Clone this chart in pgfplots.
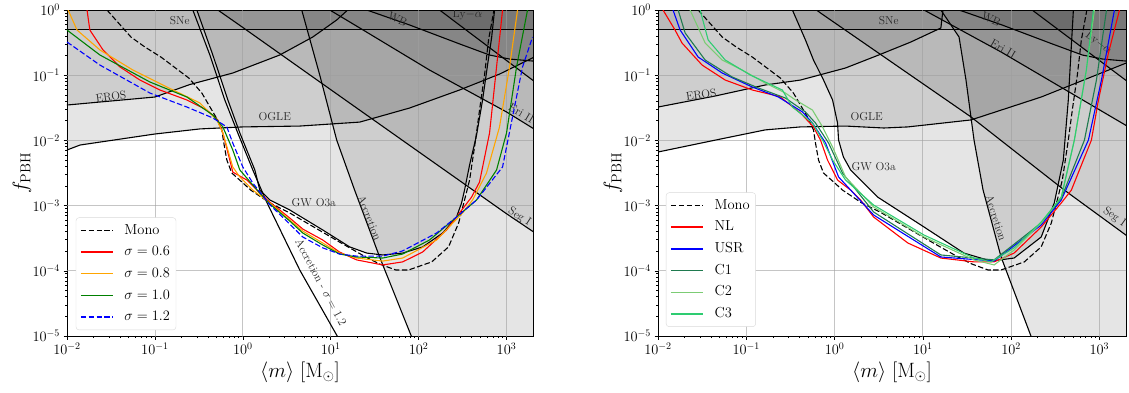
\documentclass[border=0pt]{standalone}
\usepackage{pgfplots}
\pgfplotsset{compat=1.18}

\definecolor{cOrange}{HTML}{FFA500}
\definecolor{cGreen}{HTML}{008000}
\definecolor{cOne}{HTML}{1F7A4F}
\definecolor{cTwo}{HTML}{7CCC74}
\definecolor{cThree}{HTML}{2ECC71}
\definecolor{legframe}{HTML}{D9D9D9}

\tikzset{
  cfill/.style={fill=black, fill opacity=0.1, draw=none},
  cline/.style={black, line width=1.1pt},
  gline/.style={color=gray!75, opacity=0.6, line width=0.8pt},
  bcurve/.style={line width=1.1pt},
  bdashed/.style={line width=1.1pt, dash pattern=on 5.5pt off 2.4pt},
  clabel/.style={font=\fontsize{11.5}{13}\selectfont, text=black!85, inner sep=0pt},
}

\begin{document}
\begin{tikzpicture}
\path[use as bounding box] (-67pt,-56pt) rectangle (1062pt,336pt);

% ---------------- left panel: lognormal widths ----------------
\begin{axis}[
  at={(0pt,0pt)}, anchor=south west,
  xmode=log, ymode=log,
  xmin=0.01, xmax=2000, ymin=1e-5, ymax=1,
  scale only axis, width=466pt, height=326pt,
  axis line style={black, line width=0.8pt},
  tick align=outside, xtick pos=left, ytick pos=left,
  major tick length=3.5pt, minor tick length=2pt,
  every tick/.style={black, line width=0.6pt},
  xtick={0.01,0.1,1,10,100,1000},
  ytick={1e-5,1e-4,1e-3,1e-2,1e-1,1},
  tick label style={font=\fontsize{14}{16}\selectfont},
  xlabel={$\langle m\rangle\ [\mathrm{M}_\odot]$},
  ylabel={$f_{\mathrm{PBH}}$},
  every axis x label/.style={at={(axis description cs:0.5,0)}, anchor=center,
    yshift=-36pt, font=\fontsize{20}{24}\selectfont},
  every axis y label/.style={at={(axis description cs:0,0.5)}, anchor=center,
    xshift=-45pt, rotate=90, font=\fontsize{20}{24}\selectfont},
  legend cell align=left,
  legend image code/.code={\draw[#1, line width=1.4pt] (0pt,0pt) -- (32pt,0pt);},
  legend style={at={(0.019,0.018)}, anchor=south west, draw=legframe, rounded corners=3pt,
    fill=white, inner sep=4pt,
    font=\fontsize{14.5}{16}\selectfont, row sep=4.2pt, column sep=9pt,
    nodes={text height=10.5pt, text depth=3pt, inner sep=2pt}},
]

% SNe
\addplot[cfill, forget plot] coordinates {(0.005,0.5) (4000,0.5) (4000,3) (0.005,3)};
% EROS
\addplot[cfill, forget plot] coordinates {(0.005,0.033) (0.01,0.0349) (0.1,0.0463) (0.25,0.0720) (0.769,0.108) (2.63,0.204) (6.24,0.385) (11.7,0.703) (15.6,1) (16.5,3) (0.005,3)};
% OGLE
\addplot[cfill, forget plot] coordinates {(0.005,0.0065) (0.01,0.00713) (0.0141,0.0085) (0.1,0.01254) (0.325,0.0150) (1,0.0161) (4.44,0.0166) (21.4,0.0191) (79,0.0314) (292,0.0593) (832,0.104) (1974,0.184) (4000,0.29) (4000,3) (0.005,3)};
% GW O3a
\addplot[cfill, forget plot] coordinates {(0.28,1.5) (0.300,1) (0.456,0.204) (0.676,0.0417) (0.925,0.0130) (1.37,0.00352) (1.56,0.00173) (2.03,0.00122) (3.42,0.000857) (8.11,0.000423) (16.4,0.000233) (25.7,0.000187) (39.0,0.000175) (65.8,0.000187) (111,0.000232) (188,0.000380) (270,0.000668) (308,0.00110) (333,0.00173) (380,0.00420) (456,0.0121) (534,0.0417) (608,0.143) (676,0.372) (731,1) (760,1.5) (760,3) (0.28,3)};
% Accretion
\addplot[cfill, forget plot] coordinates {(4.0,2) (4.68,1) (7.5,0.1007) (11.7,0.0101) (18.7,0.00173) (36.0,0.000163) (83.2,9.7e-6) (164,1e-6) (4000,1e-6) (4000,3) (4.0,3)};
% Seg I
\addplot[cfill, forget plot] coordinates {(0.4,1.35) (0.52,1) (1,0.54) (10,0.06) (100,0.0067) (1000,0.00075) (2000,0.0004) (4000,0.00021) (4000,3) (0.4,3)};
% Eri II
\addplot[cfill, forget plot] coordinates {(8,1.17) (9.75,1) (21.4,0.53) (133,0.120) (1000,0.0273) (1974,0.0155) (4000,0.009) (4000,3) (8,3)};
% WB
\addplot[cfill, forget plot] coordinates {(22,1.15) (25.7,1) (79,0.589) (292,0.302) (641,0.204) (1082,0.177) (1974,0.165) (4000,0.162) (4000,3) (22,3)};
% Ly-alpha
\addplot[cfill, forget plot] coordinates {(150,1.16) (173,1) (1974,0.0843) (4000,0.040) (4000,3) (150,3)};

% grid over the shaded regions
\addplot[gline, forget plot] coordinates {(0.1,1e-6) (0.1,3)};
\addplot[gline, forget plot] coordinates {(1,1e-6) (1,3)};
\addplot[gline, forget plot] coordinates {(10,1e-6) (10,3)};
\addplot[gline, forget plot] coordinates {(100,1e-6) (100,3)};
\addplot[gline, forget plot] coordinates {(1000,1e-6) (1000,3)};
\addplot[gline, forget plot] coordinates {(0.005,1e-4) (4000,1e-4)};
\addplot[gline, forget plot] coordinates {(0.005,1e-3) (4000,1e-3)};
\addplot[gline, forget plot] coordinates {(0.005,1e-2) (4000,1e-2)};
\addplot[gline, forget plot] coordinates {(0.005,1e-1) (4000,1e-1)};

% constraint boundaries
\addplot[cline, forget plot] coordinates {(0.005,0.5) (4000,0.5)};
\addplot[cline, forget plot] coordinates {(0.005,0.033) (0.01,0.0349) (0.1,0.0463) (0.25,0.0720) (0.769,0.108) (2.63,0.204) (6.24,0.385) (11.7,0.703) (15.6,1) (16.5,1.5)};
\addplot[cline, forget plot] coordinates {(0.005,0.0065) (0.01,0.00713) (0.0141,0.0085) (0.1,0.01254) (0.325,0.0150) (1,0.0161) (4.44,0.0166) (21.4,0.0191) (79,0.0314) (292,0.0593) (832,0.104) (1974,0.184) (4000,0.29)};
\addplot[cline, forget plot] coordinates {(0.28,1.5) (0.300,1) (0.456,0.204) (0.676,0.0417) (0.925,0.0130) (1.37,0.00352) (1.56,0.00173) (2.03,0.00122) (3.42,0.000857) (8.11,0.000423) (16.4,0.000233) (25.7,0.000187) (39.0,0.000175) (65.8,0.000187) (111,0.000232) (188,0.000380) (270,0.000668) (308,0.00110) (333,0.00173) (380,0.00420) (456,0.0121) (534,0.0417) (608,0.143) (676,0.372) (731,1) (760,1.5)};
\addplot[cline, forget plot] coordinates {(4.0,2) (4.68,1) (7.5,0.1007) (11.7,0.0101) (18.7,0.00173) (36.0,0.000163) (83.2,9.7e-6) (164,1e-6)};
% accretion bound for sigma = 1.2 (line only)
\addplot[cline, forget plot] coordinates {(0.22,1.6) (0.270,1) (0.422,0.204) (0.624,0.0417) (0.877,0.0130) (1.30,0.00352) (1.82,0.00122) (4.44,0.000103) (12.0,9.7e-6) (29,1e-6)};
\addplot[cline, forget plot] coordinates {(0.4,1.35) (0.52,1) (1,0.54) (10,0.06) (100,0.0067) (1000,0.00075) (2000,0.0004) (4000,0.00021)};
\addplot[cline, forget plot] coordinates {(8,1.17) (9.75,1) (21.4,0.53) (133,0.120) (1000,0.0273) (1974,0.0155) (4000,0.009)};
\addplot[cline, forget plot] coordinates {(22,1.15) (25.7,1) (79,0.589) (292,0.302) (641,0.204) (1082,0.177) (1974,0.165) (4000,0.162)};
\addplot[cline, forget plot] coordinates {(150,1.16) (173,1) (1974,0.0843) (4000,0.040)};

% constraint names
\node[clabel] at (axis cs:0.192,0.70) {SNe};
\node[clabel, rotate=8] at (axis cs:0.0316,0.047) {EROS};
\node[clabel] at (axis cs:2.31,0.0229) {OGLE};
\node[clabel, rotate=-25] at (axis cs:57.7,0.73) {WB};
\node[clabel] at (axis cs:360,0.84) {Ly$-\alpha$};
\node[clabel, rotate=-31] at (axis cs:1479,0.0263) {Eri II};
\node[clabel, rotate=-33] at (axis cs:1406,0.000668) {Seg I};
\node[clabel] at (axis cs:6.41,0.00110) {GW O3a};
\node[clabel, rotate=-68] at (axis cs:27.7,0.000645) {Accretion};
\node[clabel, rotate=-62, xshift=5pt] at (axis cs:7.31,7.76e-5) {Accretion - $\sigma=1.2$};

% bounds for each width
\addplot[bdashed, black, forget plot] coordinates {(0.0285,1) (0.0534,0.385) (0.0769,0.271) (0.117,0.190) (0.243,0.0906) (0.342,0.0533) (0.493,0.0229) (0.577,0.0145) (0.608,0.00912) (0.658,0.0050) (0.750,0.00316) (0.976,0.00230) (1.23,0.00173) (2.03,0.00110) (3.42,0.000771) (12.6,0.000276) (25.0,0.000163) (36.0,0.000127) (54.8,0.000103) (76.9,0.000103) (141,0.000137) (219,0.000233) (285,0.000541) (333,0.00122) (380,0.00247) (444,0.0101) (493,0.0292) (562,0.1007) (624,0.347) (720,1)};
\addplot[bcurve, red, forget plot] coordinates {(0.0169,1) (0.0182,0.493) (0.0257,0.244) (0.0400,0.134) (0.0676,0.0843) (0.114,0.0593) (0.231,0.0417) (0.390,0.0292) (0.520,0.0206) (0.593,0.0130) (0.711,0.0050) (0.769,0.00327) (1.11,0.00247) (1.56,0.00156) (2.03,0.00113) (3.42,0.000645) (4.81,0.000437) (8.11,0.000297) (12.6,0.000194) (19.7,0.000147) (39.0,0.000123) (65.8,0.000137) (111,0.000194) (208,0.000423) (292,0.000771) (400,0.00135) (493,0.00230) (641,0.0130) (770,0.134) (901,1)};
\addplot[bcurve, cOrange, forget plot] coordinates {(0.0103,1) (0.0130,0.493) (0.0237,0.244) (0.0562,0.120) (0.137,0.0659) (0.325,0.0375) (0.507,0.0206) (0.593,0.0130) (0.676,0.00713) (0.769,0.00391) (0.925,0.00275) (1.30,0.00173) (2.03,0.00110) (3.42,0.000601) (4.81,0.000407) (8.11,0.000267) (12.6,0.000187) (19.7,0.000157) (39.0,0.000141) (65.8,0.000157) (160,0.000297) (316,0.000771) (411,0.00122) (592,0.00316) (832,0.0161) (1082,0.134) (1334,1)};
\addplot[bcurve, cGreen, forget plot] coordinates {(0.01,0.493) (0.0237,0.204) (0.0877,0.0787) (0.231,0.0463) (0.456,0.0245) (0.593,0.0161) (0.769,0.00713) (0.925,0.00352) (1.56,0.00156) (2.03,0.00106) (3.42,0.000580) (4.81,0.000380) (8.11,0.000249) (12.6,0.000181) (19.7,0.000163) (39.0,0.000157) (65.8,0.000181) (133,0.000297) (270,0.000668) (456,0.00122) (770,0.00352) (1000,0.0130) (1300,0.134) (1733,1)};
\addplot[bdashed, blue, forget plot] coordinates {(0.01,0.323) (0.0237,0.143) (0.0877,0.0533) (0.231,0.0325) (0.456,0.0221) (0.658,0.0161) (0.769,0.00912) (1.0,0.00391) (1.30,0.00222) (2.03,0.00103) (3.42,0.000521) (4.81,0.000330) (8.11,0.000225) (12.6,0.000181) (19.7,0.000168) (39.0,0.000168) (65.8,0.000202) (160,0.000380) (270,0.000668) (456,0.00122) (901,0.00391) (1170,0.0229) (1521,0.134) (1974,0.385)};

\addlegendimage{bdashed, black}
\addlegendentry{Mono}
\addlegendimage{bcurve, red}
\addlegendentry{$\sigma=0.6$}
\addlegendimage{bcurve, cOrange}
\addlegendentry{$\sigma=0.8$}
\addlegendimage{bcurve, cGreen}
\addlegendentry{$\sigma=1.0$}
\addlegendimage{bdashed, blue}
\addlegendentry{$\sigma=1.2$}
\end{axis}

% ---------------- right panel: inflationary models ----------------
\begin{axis}[
  at={(591pt,0pt)}, anchor=south west,
  xmode=log, ymode=log,
  xmin=0.01, xmax=2000, ymin=1e-5, ymax=1,
  scale only axis, width=468pt, height=326pt,
  axis line style={black, line width=0.8pt},
  tick align=outside, xtick pos=left, ytick pos=left,
  major tick length=3.5pt, minor tick length=2pt,
  every tick/.style={black, line width=0.6pt},
  xtick={0.01,0.1,1,10,100,1000},
  ytick={1e-5,1e-4,1e-3,1e-2,1e-1,1},
  tick label style={font=\fontsize{14}{16}\selectfont},
  xlabel={$\langle m\rangle\ [\mathrm{M}_\odot]$},
  ylabel={$f_{\mathrm{PBH}}$},
  every axis x label/.style={at={(axis description cs:0.5,0)}, anchor=center,
    yshift=-36pt, font=\fontsize{20}{24}\selectfont},
  every axis y label/.style={at={(axis description cs:0,0.5)}, anchor=center,
    xshift=-45pt, rotate=90, font=\fontsize{20}{24}\selectfont},
  legend cell align=left,
  legend image code/.code={\draw[#1, line width=1.4pt] (0pt,0pt) -- (32pt,0pt);},
  legend style={at={(0.017,0.028)}, anchor=south west, draw=legframe, rounded corners=3pt,
    fill=white, inner sep=4pt,
    font=\fontsize{14.5}{16}\selectfont, row sep=4.2pt, column sep=9pt,
    nodes={text height=10.5pt, text depth=3pt, inner sep=2pt}},
]

% SNe
\addplot[cfill, forget plot] coordinates {(0.005,0.5) (4000,0.5) (4000,3) (0.005,3)};
% EROS
\addplot[cfill, forget plot] coordinates {(0.005,0.031) (0.01,0.0325) (0.0445,0.048) (0.164,0.0708) (0.411,0.0843) (1.33,0.129) (3.16,0.204) (7.31,0.323) (16.0,0.53) (16.9,1) (17.0,3) (0.005,3)};
% OGLE
\addplot[cfill, forget plot] coordinates {(0.005,0.006) (0.01,0.00664) (0.0445,0.0101) (0.164,0.0145) (0.411,0.0161) (1.33,0.0166) (3.61,0.0155) (6.76,0.0161) (35.1,0.0206) (219,0.0463) (2138,0.159) (4000,0.24) (4000,3) (0.005,3)};
% GW O3a
\addplot[cfill, forget plot] coordinates {(0.31,1.5) (0.333,1) (0.468,0.347) (0.577,0.171) (0.750,0.0843) (0.949,0.0417) (1.08,0.0185) (1.11,0.0101) (1.26,0.00556) (1.52,0.00352) (2.14,0.00222) (3.08,0.00135) (10.3,0.000470) (29.2,0.000187) (59.3,0.000141) (108,0.000157) (219,0.000330) (308,0.00110) (390,0.0050) (444,0.0417) (507,1) (520,1.5) (520,3) (0.31,3)};
% Accretion
\addplot[cfill, forget plot] coordinates {(12.3,2) (16.0,1) (25.7,0.385) (30.8,0.0843) (38.0,0.0101) (48.1,0.00173) (76.9,0.000163) (169,9.7e-6) (316,1e-6) (4000,1e-6) (4000,3) (12.3,3)};
% Seg I
\addplot[cfill, forget plot] coordinates {(0.5,1.23) (0.624,1) (0.693,0.90) (35.1,0.0229) (400,0.00173) (2138,0.000330) (4000,0.00017) (4000,3) (0.5,3)};
% Eri II
\addplot[cfill, forget plot] coordinates {(8.5,1.15) (10.3,1) (76.9,0.227) (2138,0.0161) (4000,0.0097) (4000,3) (8.5,3)};
% WB
\addplot[cfill, forget plot] coordinates {(22,1.15) (25.7,1) (79,0.589) (292,0.302) (641,0.204) (1082,0.177) (1974,0.165) (4000,0.162) (4000,3) (22,3)};
% Ly-alpha
\addplot[cfill, forget plot] coordinates {(150,1.16) (173,1) (1974,0.0843) (4000,0.040) (4000,3) (150,3)};

% grid over the shaded regions
\addplot[gline, forget plot] coordinates {(0.1,1e-6) (0.1,3)};
\addplot[gline, forget plot] coordinates {(1,1e-6) (1,3)};
\addplot[gline, forget plot] coordinates {(10,1e-6) (10,3)};
\addplot[gline, forget plot] coordinates {(100,1e-6) (100,3)};
\addplot[gline, forget plot] coordinates {(1000,1e-6) (1000,3)};
\addplot[gline, forget plot] coordinates {(0.005,1e-4) (4000,1e-4)};
\addplot[gline, forget plot] coordinates {(0.005,1e-3) (4000,1e-3)};
\addplot[gline, forget plot] coordinates {(0.005,1e-2) (4000,1e-2)};
\addplot[gline, forget plot] coordinates {(0.005,1e-1) (4000,1e-1)};

% constraint boundaries
\addplot[cline, forget plot] coordinates {(0.005,0.5) (4000,0.5)};
\addplot[cline, forget plot] coordinates {(0.005,0.031) (0.01,0.0325) (0.0445,0.048) (0.164,0.0708) (0.411,0.0843) (1.33,0.129) (3.16,0.204) (7.31,0.323) (16.0,0.53) (16.9,1) (17.0,1.5)};
\addplot[cline, forget plot] coordinates {(0.005,0.006) (0.01,0.00664) (0.0445,0.0101) (0.164,0.0145) (0.411,0.0161) (1.33,0.0166) (3.61,0.0155) (6.76,0.0161) (35.1,0.0206) (219,0.0463) (2138,0.159) (4000,0.24)};
\addplot[cline, forget plot] coordinates {(0.31,1.5) (0.333,1) (0.468,0.347) (0.577,0.171) (0.750,0.0843) (0.949,0.0417) (1.08,0.0185) (1.11,0.0101) (1.26,0.00556) (1.52,0.00352) (2.14,0.00222) (3.08,0.00135) (10.3,0.000470) (29.2,0.000187) (59.3,0.000141) (108,0.000157) (219,0.000330) (308,0.00110) (390,0.0050) (444,0.0417) (507,1) (520,1.5)};
\addplot[cline, forget plot] coordinates {(12.3,2) (16.0,1) (25.7,0.385) (30.8,0.0843) (38.0,0.0101) (48.1,0.00173) (76.9,0.000163) (169,9.7e-6) (316,1e-6)};
\addplot[cline, forget plot] coordinates {(0.5,1.23) (0.624,1) (0.693,0.90) (35.1,0.0229) (400,0.00173) (2138,0.000330) (4000,0.00017)};
\addplot[cline, forget plot] coordinates {(8.5,1.15) (10.3,1) (76.9,0.227) (2138,0.0161) (4000,0.0097)};
\addplot[cline, forget plot] coordinates {(22,1.15) (25.7,1) (79,0.589) (292,0.302) (641,0.204) (1082,0.177) (1974,0.165) (4000,0.162)};
\addplot[cline, forget plot] coordinates {(150,1.16) (173,1) (1974,0.0843) (4000,0.040)};

% constraint names
\node[clabel] at (axis cs:4.11,0.70) {SNe};
\node[clabel, rotate=8] at (axis cs:0.0308,0.050) {EROS};
\node[clabel] at (axis cs:2.31,0.0229) {OGLE};
\node[clabel, rotate=-25] at (axis cs:59.3,0.73) {WB};
\node[clabel, rotate=-30] at (axis cs:81.1,0.253) {Eri II};
\node[clabel, rotate=-37] at (axis cs:975,0.312) {Ly$-\alpha$};
\node[clabel, rotate=-35] at (axis cs:1479,0.000668) {Seg I};
\node[clabel] at (axis cs:2.77,0.00391) {GW O3a};
\node[clabel, rotate=-72] at (axis cs:67.6,0.000645) {Accretion};

% bounds for each model
\addplot[bdashed, black, forget plot] coordinates {(0.0285,1) (0.0534,0.385) (0.0769,0.271) (0.117,0.190) (0.243,0.0906) (0.342,0.0533) (0.493,0.0229) (0.577,0.0145) (0.608,0.00912) (0.658,0.0050) (0.750,0.00316) (0.976,0.00230) (1.23,0.00173) (2.03,0.00110) (3.42,0.000771) (12.6,0.000276) (25.0,0.000163) (36.0,0.000127) (54.8,0.000103) (76.9,0.000103) (141,0.000137) (219,0.000233) (285,0.000541) (333,0.00122) (380,0.00247) (444,0.0101) (493,0.0292) (562,0.1007) (624,0.347) (720,1)};
\addplot[bcurve, red, forget plot] coordinates {(0.0114,1) (0.0156,0.493) (0.0187,0.312) (0.0316,0.143) (0.0577,0.0843) (0.117,0.0593) (0.24,0.047) (0.411,0.0263) (0.577,0.0161) (0.693,0.0101) (0.832,0.0050) (1.08,0.00247) (1.52,0.00173) (1.97,0.00122) (2.77,0.000668) (6.76,0.000267) (16.0,0.000157) (38.0,0.000137) (64.1,0.000137) (108,0.000187) (219,0.000470) (370,0.00110) (481,0.00173) (811,0.0101) (975,0.0417) (1265,0.219) (1688,1)};
\addplot[bcurve, blue, forget plot] coordinates {(0.0148,1) (0.0178,0.493) (0.0285,0.190) (0.0534,0.108) (0.117,0.0659) (0.231,0.0463) (0.433,0.0273) (0.562,0.0185) (0.791,0.00912) (1.11,0.00275) (2.77,0.000718) (16.0,0.000163) (64.1,0.000141) (219,0.000504) (370,0.00122) (750,0.0101) (1054,0.0843) (1479,1)};
\addplot[bcurve, cOne, forget plot] coordinates {(0.0169,1) (0.0203,0.444) (0.0342,0.171) (0.0693,0.0938) (0.137,0.0637) (0.277,0.0447) (0.468,0.0273) (0.608,0.0185) (0.855,0.00912) (1.23,0.00316) (2.77,0.000798) (16.0,0.000175) (64.1,0.000147) (219,0.000541) (370,0.00130) (676,0.0101) (925,0.0843) (1202,1)};
\addplot[bcurve, cTwo, forget plot] coordinates {(0.0231,1) (0.0342,0.312) (0.0534,0.171) (0.0901,0.120) (0.164,0.0759) (0.277,0.0533) (0.361,0.0417) (0.562,0.0292) (0.731,0.0161) (0.949,0.00792) (1.33,0.00275) (2.77,0.000953) (10.3,0.000330) (38.0,0.000147) (64.1,0.000123) (108,0.000208) (219,0.000541) (370,0.00135) (520,0.0101) (711,0.120) (877,1)};
\addplot[bcurve, cThree, forget plot] coordinates {(0.030,1) (0.037,0.347) (0.0577,0.171) (0.111,0.1007) (0.256,0.0593) (0.333,0.0325) (0.562,0.0185) (0.731,0.0101) (0.949,0.0050) (1.33,0.00247) (2.77,0.00102) (10.3,0.000354) (38.0,0.000157) (59.3,0.000137) (108,0.000225) (219,0.000560) (370,0.00135) (520,0.0101) (711,0.120) (855,1)};

\addlegendimage{bdashed, black}
\addlegendentry{Mono}
\addlegendimage{bcurve, red}
\addlegendentry{NL}
\addlegendimage{bcurve, blue}
\addlegendentry{USR}
\addlegendimage{bcurve, cOne}
\addlegendentry{C1}
\addlegendimage{bcurve, cTwo}
\addlegendentry{C2}
\addlegendimage{bcurve, cThree}
\addlegendentry{C3}
\end{axis}
\end{tikzpicture}
\end{document}
